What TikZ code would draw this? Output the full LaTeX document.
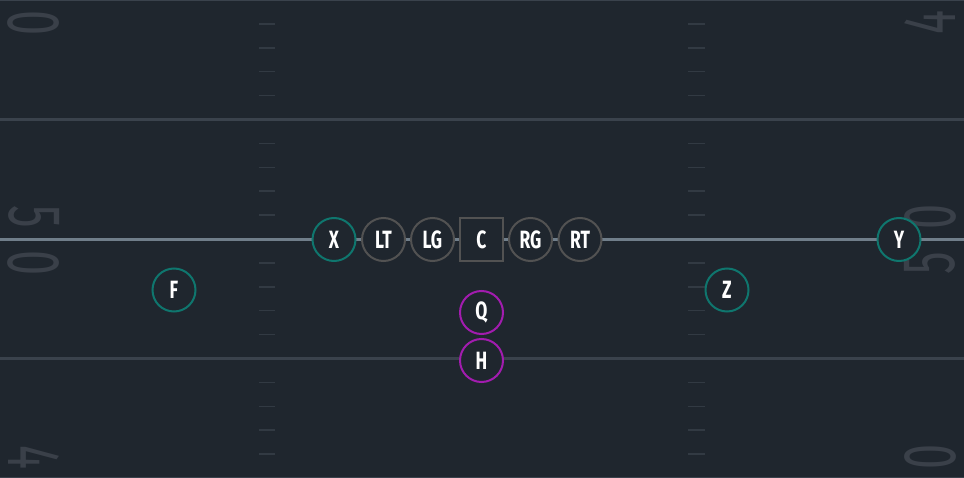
\documentclass[tikz,border=0pt]{standalone}
\usepackage{fontspec}
\usepackage{tikz}

\newfontfamily\plfont[FakeStretch=0.7]{Fira Sans}
\newfontfamily\ydfont[FakeStretch=0.6]{Fira Sans}

\definecolor{turf}{RGB}{31,38,46}
\definecolor{yardline}{RGB}{58,66,76}
\definecolor{losline}{RGB}{112,126,138}
\definecolor{hashcol}{RGB}{50,58,67}
\definecolor{numcol}{RGB}{58,64,73}
\definecolor{skill}{RGB}{15,118,110}
\definecolor{oline}{RGB}{82,82,82}
\definecolor{backs}{RGB}{162,28,175}

\begin{document}
\begin{tikzpicture}[x=1pt,y=-1pt,
  player/.style={circle,draw,line width=2pt,fill=turf,text=white,
    minimum size=43pt,inner sep=0pt,font=\plfont\bfseries\fontsize{25}{25}\selectfont},
  wr/.style={player,draw=skill},
  ol/.style={player,draw=oline},
  rb/.style={player,draw=backs},
  yd/.style={text=numcol,inner sep=0pt,font=\ydfont\fontsize{75}{75}\selectfont}]

\useasboundingbox (0,0) rectangle (964,478);
\fill[turf] (0,0) rectangle (964,478);

% yard numbers
\node[yd,rotate=-90] (l40) at (34,23) {0};
\node[yd,rotate=-90] (l5) at (34,216.5) {5};
\node[yd,rotate=-90] (l0) at (34,263) {0};
\node[yd,rotate=-90] (l4) at (34,457) {4};
\node[yd,rotate=90] (r4) at (930,23) {4};
\node[yd,rotate=90] (r0) at (930,216.5) {0};
\node[yd,rotate=90] (r5) at (930,263) {5};
\node[yd,rotate=90] (r40) at (930,457) {0};

% yard lines
\foreach \k in {0,1,3,4}
  \draw[yardline,line width=2.5pt] (0,\k*119.5) -- (964,\k*119.5);
\draw[losline,line width=2.5pt] (0,239.5) -- (964,239.5);

% hash marks
\foreach \k in {0,...,3}
  \foreach \j in {1,...,4} {
    \draw[hashcol,line width=1.5pt] (259,\k*119.5+\j*23.9) -- (275,\k*119.5+\j*23.9);
    \draw[hashcol,line width=1.5pt] (688,\k*119.5+\j*23.9) -- (705,\k*119.5+\j*23.9);
  }

% offense
\node[wr] (X) at (334,239.5) {X};
\node[ol] (LT) at (383.5,239.5) {LT};
\node[ol] (LG) at (432.5,239.5) {LG};
\node[ol,rectangle] (C) at (481.5,239.5) {C};
\node[ol] (RG) at (530.5,239.5) {RG};
\node[ol] (RT) at (580,239.5) {RT};
\node[wr] (Y) at (899,239.5) {Y};
\node[wr] (F) at (174,290) {F};
\node[wr] (Z) at (727,290) {Z};
\node[rb] (Q) at (481.5,312.5) {Q};
\node[rb] (H) at (481.5,360.5) {H};

\end{tikzpicture}
\end{document}
